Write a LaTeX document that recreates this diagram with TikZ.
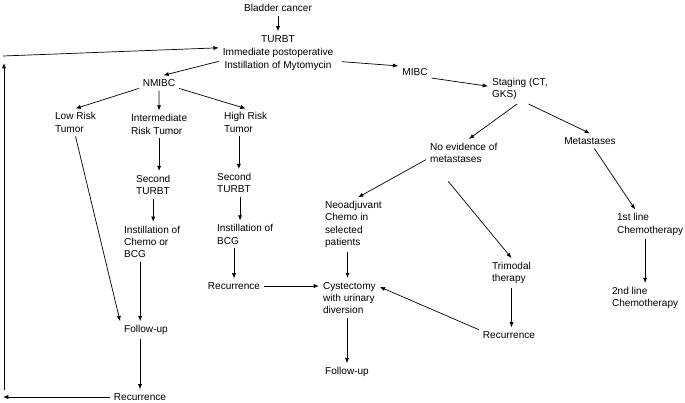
\documentclass[tikz,border=0pt]{standalone}
\usepackage{fontspec}
\setmainfont{Liberation Sans}
\usetikzlibrary{arrows.meta}

\begin{document}
\begin{tikzpicture}[x=0.03cm,y=-0.03cm,line width=0.6pt,
  font=\fontsize{8.6}{10.5}\selectfont,
  box/.style={inner sep=1.5pt,outer sep=2pt,align=left,anchor=west},
  cbox/.style={inner sep=1.5pt,outer sep=2pt,align=center},
  >={Latex[length=4.5pt,width=3.5pt]}]
\useasboundingbox (0,0) rectangle (685,403);

\node[cbox] (bladder) at (278,8) {Bladder cancer};
\node[cbox,font=\fontsize{8.6}{11}\selectfont] (turbt) at (278,53) {TURBT\\Immediate postoperative\\Instillation of Mytomycin};
\node[cbox] (nmibc) at (159,83) {NMIBC};
\node[cbox] (mibc) at (415,72) {MIBC};
\node[box] (staging) at (488,89) {Staging (CT,\\GKS)};
\node[box] (noevid) at (426,153) {No evidence of\\metastases};
\node[cbox] (metastases) at (590,141) {Metastases};

\node[box] (lowrisk) at (51,122.5) {Low Risk\\Tumor};
\node[box] (interm) at (127,124.5) {Intermediate\\Risk Tumor};
\node[box] (highrisk) at (220,122.5) {High Risk\\Tumor};
\node[box] (secondA) at (132,185) {Second\\TURBT};
\node[box] (secondB) at (213,183) {Second\\TURBT};
\node[box] (instilA) at (120,242) {Instillation of\\Chemo or\\BCG};
\node[box] (instilB) at (213,234.5) {Instillation of\\BCG};
\node[cbox] (recB) at (234,286) {Recurrence};
\node[cbox] (followA) at (146,330) {Follow-up};
\node[cbox] (recA) at (140,397) {Recurrence};

\node[box] (neoadj) at (321,224.5) {Neoadjuvant\\Chemo in\\selected\\patients};
\node[box] (cyst) at (319,298) {Cystectomy\\with urinary\\diversion};
\node[cbox] (followC) at (347,372) {Follow-up};
\node[box] (trimodal) at (488,273) {Trimodal\\therapy};
\node[cbox] (recC) at (509,335) {Recurrence};
\node[box] (firstline) at (613,224.5) {1st line\\Chemotherapy};
\node[box] (secondline) at (608,298) {2nd line\\Chemotherapy};

\coordinate (loopA) at (3,397);
\coordinate (loopB) at (4,390);
\coordinate (loopC) at (4,63);
\coordinate (loopD) at (3,56);

\draw[->] (bladder) -- (turbt);
\draw[->] (turbt.188) -- (nmibc.60);
\draw[->,shorten <=4pt] (turbt.-8) -- (mibc.160);
\draw[->] (mibc.-20) -- (staging.175);
\draw[->] (staging.-100) -- (noevid.70);
\draw[->] (staging.-60) -- (metastases.north);
\draw[->] (metastases.-60) -- (firstline.135);
\draw[->] (secondline.north |- firstline.south) -- (secondline.north);
\draw[->] (noevid.190) -- (neoadj.80);
\draw[->,shorten <=16pt] (noevid.207) -- (trimodal.north);
\draw[->] ([xshift=-5pt]neoadj.south) -- ([xshift=-5pt]neoadj.south |- cyst.north);
\draw[->] (trimodal.south) -- (trimodal.south |- recC.north);
\draw[->] (recC.170) -- (cyst.20);
\draw[->] (followC.north |- cyst.south) -- (followC.north);
\draw[->] (recB.east) -- (recB.east -| cyst.west);

\draw[->] (nmibc.195) -- (lowrisk.north);
\draw[->] (nmibc) -- (interm);
\draw[->] (nmibc.-15) -- (highrisk.north);
\draw[->] ([xshift=4pt]secondB.north |- highrisk.south) -- ([xshift=4pt]secondB.north);
\draw[->] ([xshift=5pt]secondB.south) -- ([xshift=5pt]secondB.south |- instilB.north);
\draw[->] (recB.north |- instilB.south) -- (recB.north);
\draw[->] (interm.south) -- (interm.south |- secondA.north);
\draw[->] (secondA.south) -- (secondA.south |- instilA.north);
\draw[->] ([xshift=-5pt]followA.north |- instilA.south) -- ([xshift=-5pt]followA.north);
\draw[->] (lowrisk.south) -- (followA.north west);
\draw[->] (recA.north |- followA.south) -- (recA.north);

\draw[->] (recA.west) -- (loopA);
\draw[->] (loopB) -- (loopC);
\draw[->] (loopD) -- (turbt.175);
\end{tikzpicture}
\end{document}
